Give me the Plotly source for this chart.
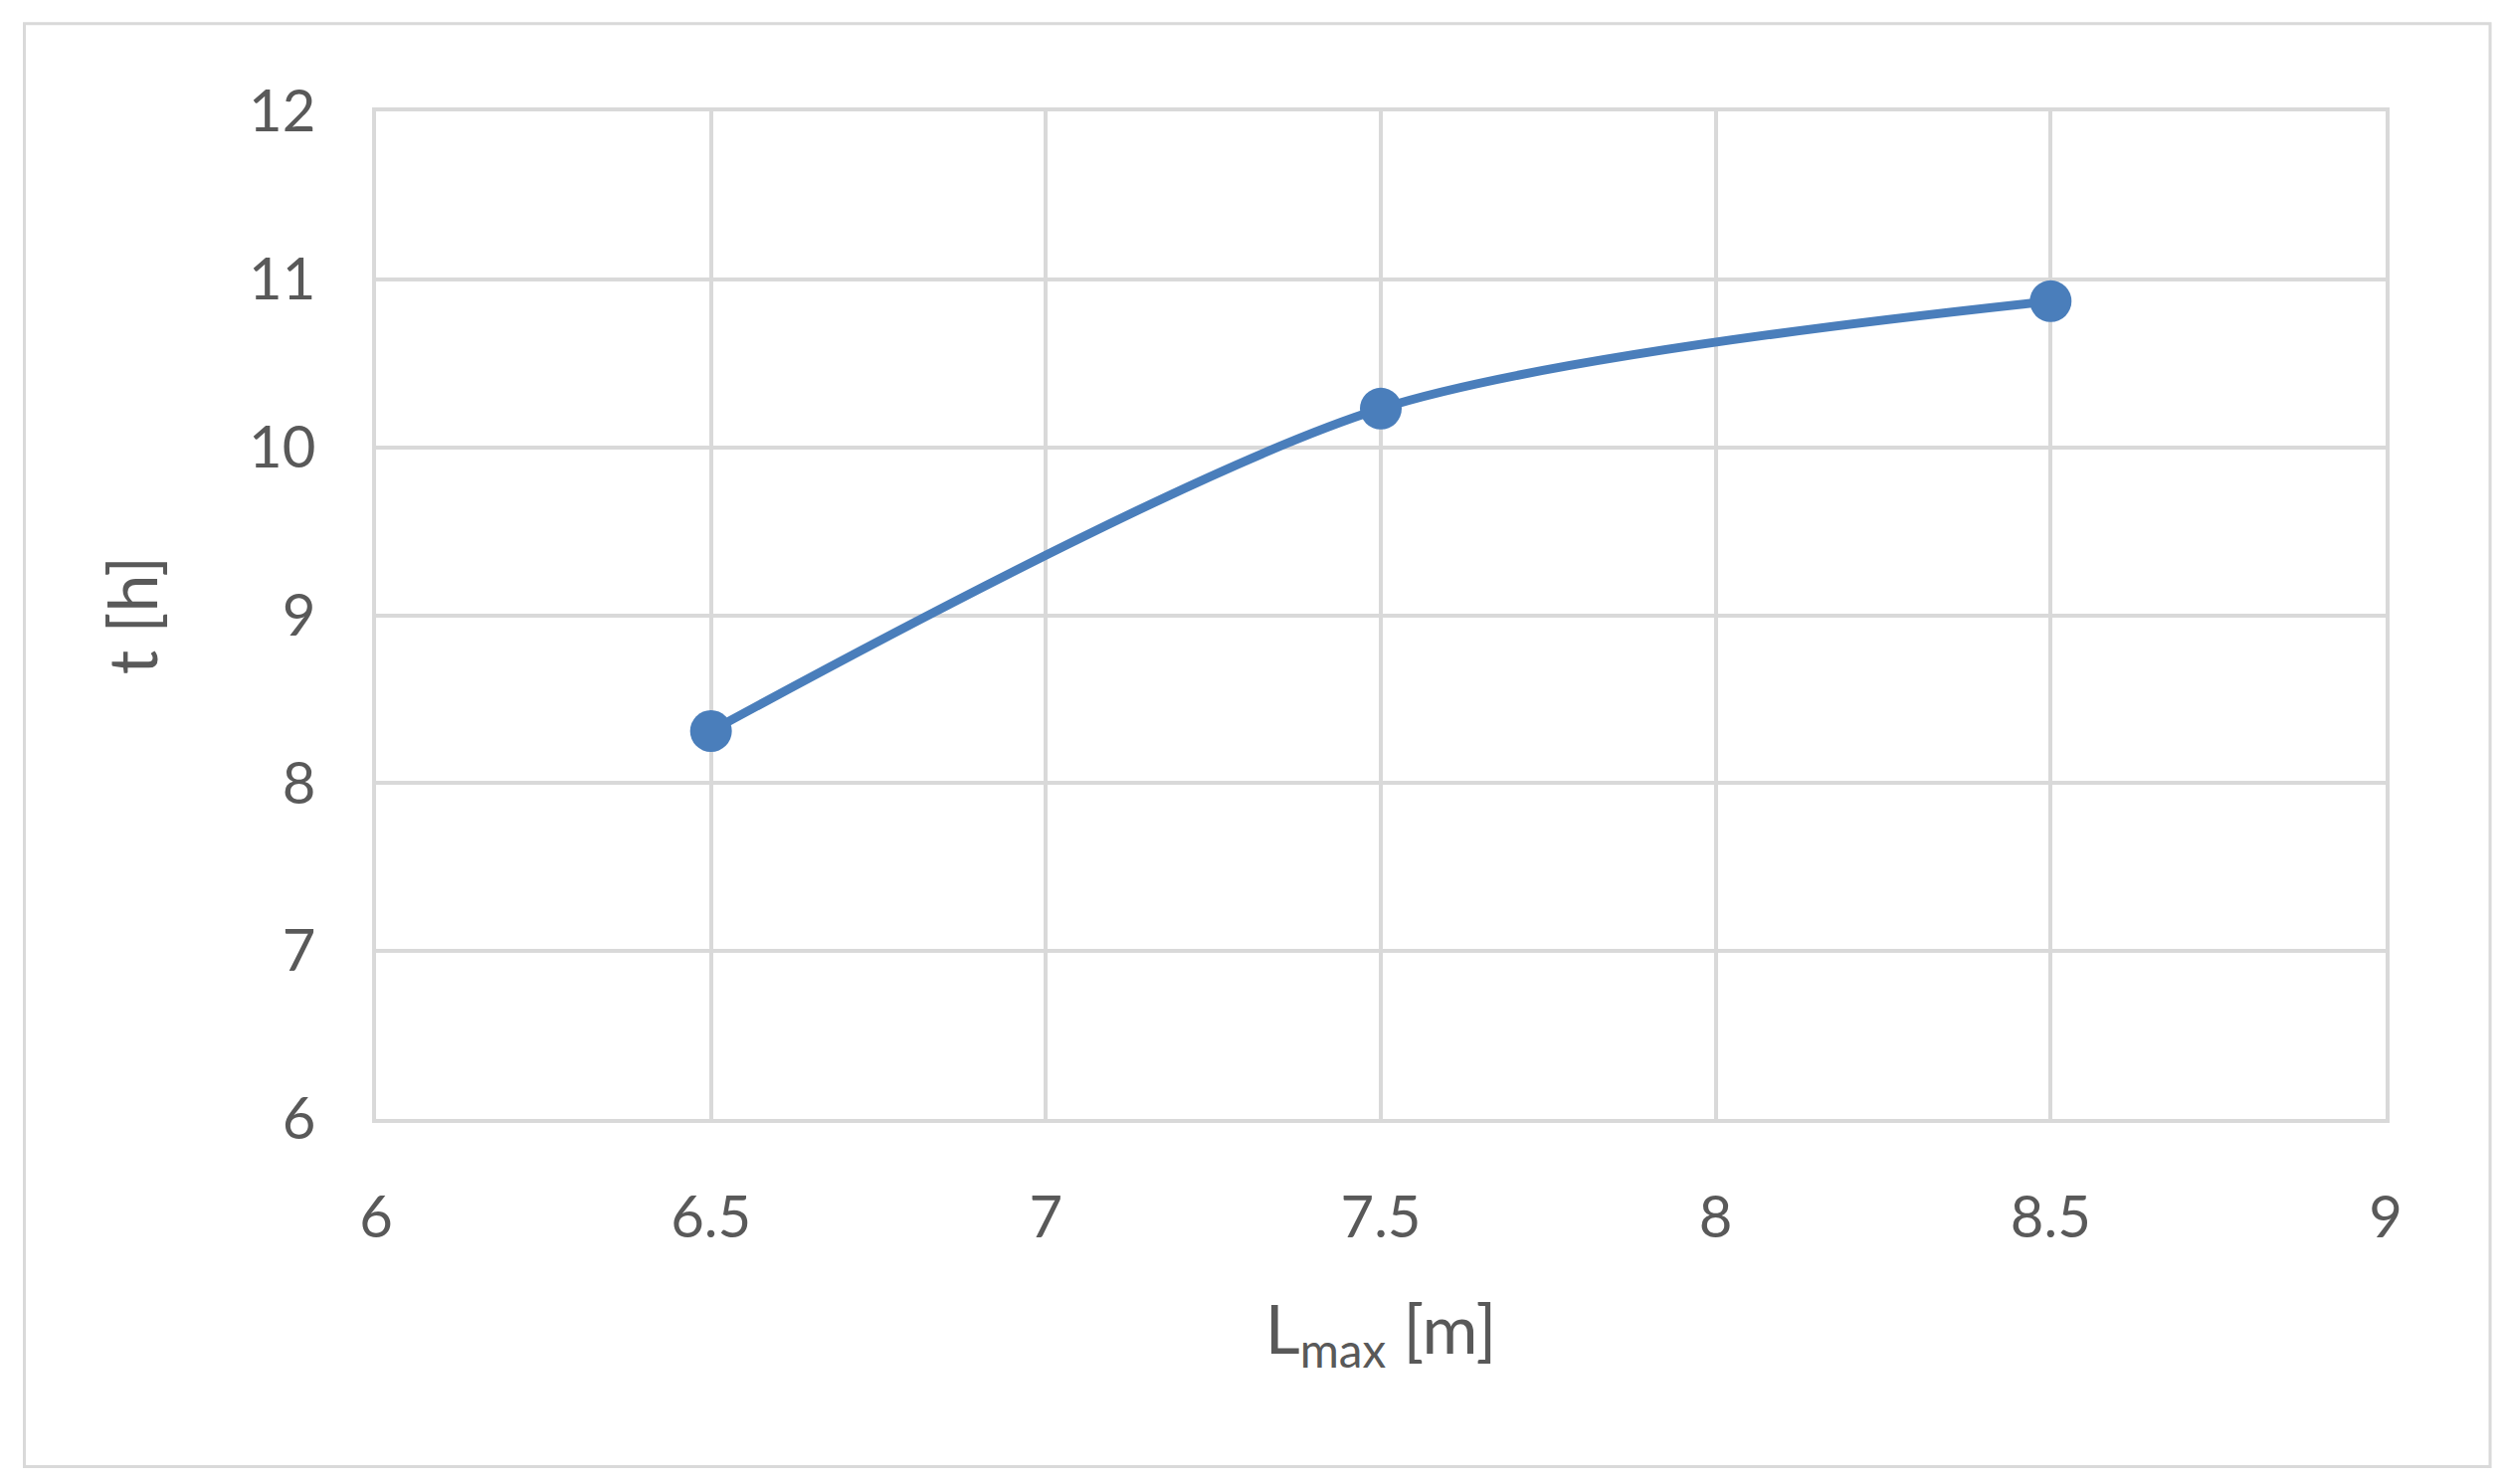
import plotly.graph_objects as go

x_vals = [6.5, 7.5, 8.5]
y_vals = [8.31, 10.23, 10.87]

fig = go.Figure(go.Scatter(
    x=x_vals, y=y_vals, mode="lines+markers",
    line=dict(color="#4a7ebb", width=9, shape="spline", smoothing=0.8),
    marker=dict(color="#4a7ebb", size=42),
))
font = "Lato, Open Sans, sans-serif"
fig.update_layout(
    width=2514, height=1492, paper_bgcolor="white", plot_bgcolor="white",
    margin=dict(l=370, r=124, t=104, b=375),
    showlegend=False,
    font=dict(family=font, color="#595959", size=58),
    xaxis=dict(range=[6, 9], dtick=0.5, showgrid=True, gridcolor="#d9d9d9", gridwidth=4,
               showline=True, linecolor="#d9d9d9", linewidth=4, mirror=True, zeroline=False,
               ticks="", ticklabelstandoff=45,
               title=dict(text="L<sub>max</sub> [m]", font=dict(size=68), standoff=60)),
    yaxis=dict(range=[6, 12], dtick=1, showgrid=True, gridcolor="#d9d9d9", gridwidth=4,
               showline=True, linecolor="#d9d9d9", linewidth=4, mirror=True, zeroline=False,
               ticks="", ticklabelstandoff=45,
               title=dict(text="t [h]", font=dict(size=68), standoff=70)),
    shapes=[dict(type="rect", xref="paper", yref="paper", x0=-0.175, x1=1.052, y0=-0.345, y1=1.087,
                 line=dict(color="#d9d9d9", width=3))],
)
fig.write_html("out.html")
